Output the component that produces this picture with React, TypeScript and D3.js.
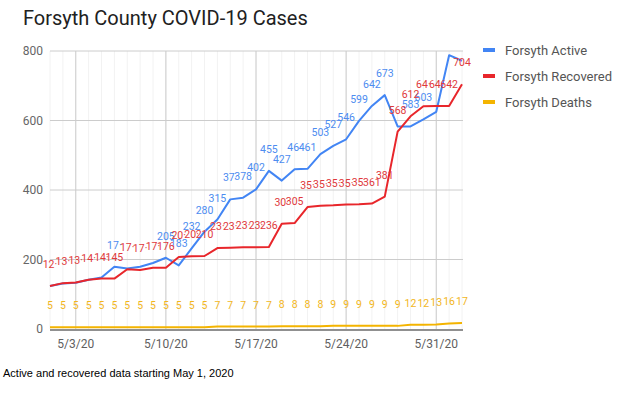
import * as d3 from 'd3';

// Daily counts, May 1 – June 2, 2020
const dates = [
  '2020-05-01', '2020-05-02', '2020-05-03', '2020-05-04', '2020-05-05', '2020-05-06', '2020-05-07',
  '2020-05-08', '2020-05-09', '2020-05-10', '2020-05-11', '2020-05-12', '2020-05-13', '2020-05-14',
  '2020-05-15', '2020-05-16', '2020-05-17', '2020-05-18', '2020-05-19', '2020-05-20', '2020-05-21',
  '2020-05-22', '2020-05-23', '2020-05-24', '2020-05-25', '2020-05-26', '2020-05-27', '2020-05-28',
  '2020-05-29', '2020-05-30', '2020-05-31', '2020-06-01', '2020-06-02',
];
const active = [
  124, 131, 133, 142, 148, 179, 174, 179, 190, 205, 183, 232, 280, 315, 373, 378, 402,
  455, 427, 460, 461, 503, 527, 546, 599, 642, 673, 583, 583, 603, 625, 788, 772,
];
const recovered = [
  124, 132, 134, 142, 145, 145, 172, 170, 176, 176, 207, 209, 210, 233, 234, 235, 235,
  236, 303, 305, 351, 355, 356, 358, 359, 361, 381, 568, 612, 641, 642, 642, 704,
];
const deaths = [
  5, 5, 5, 5, 5, 5, 5, 5, 5, 5, 5, 5, 5, 7, 7, 7, 7,
  7, 8, 8, 8, 8, 9, 9, 9, 9, 9, 9, 12, 12, 13, 16, 17,
];
const xTicks = ['2020-05-03', '2020-05-10', '2020-05-17', '2020-05-24', '2020-05-31'];
const yTicks = [0, 200, 400, 600, 800];

const series = [
  { name: 'Forsyth Active', color: '#4285f4', label: '#4d8cf0', values: active },
  { name: 'Forsyth Recovered', color: '#e8262b', label: '#e0393b', values: recovered },
  { name: 'Forsyth Deaths', color: '#f4b400', label: '#f2b61c', values: deaths },
];

const W = 627;
const H = 396;
const font = 'Roboto, Arial, sans-serif';

const parse = d3.timeParse('%Y-%m-%d');
const days = dates.map(d => parse(d) as Date);

const x = d3.scaleTime()
  .domain([days[0], days[days.length - 1]])
  .range([50, 462]);
const y = d3.scaleLinear().domain([0, 800]).range([329, 51]);
const fmt = d3.timeFormat('%-m/%-d/%y');

const line = d3.line<number>()
  .x((_, i) => x(days[i]))
  .y(v => y(v));

export default function App() {
  const [x0, x1] = x.range();
  const [yb, yt] = y.range();

  // data labels: truncate when the next label sits at nearly the same height,
  // hide when a later series puts its label on the same spot
  const labels = series.map((s, si) => s.values.map((v, i) => {
    const ly = y(v) - 22;
    if (ly < yt) return null;
    const covered = series.slice(si + 1).some(o => Math.abs(y(o.values[i]) - y(v)) < 6);
    if (covered) return null;
    let txt = String(v);
    const next = s.values[i + 1];
    if (next !== undefined && txt.length >= 3 && Math.abs(y(next) - y(v)) < 6.5) {
      txt = txt.slice(0, 2) + '·';
    }
    return { x: x(days[i]), y: ly, txt };
  }));

  return (
    <svg width={W} height={H} style={{ position: 'absolute', left: 0, top: 0, background: '#fff' }}>
      <text x={23} y={25} fontFamily={font} fontSize={20} fill="#212121">Forsyth County COVID-19 Cases</text>

      {/* minor vertical gridlines */}
      {days.map((d, i) => (
        <line key={'m' + i} x1={x(d)} x2={x(d)} y1={yt} y2={yb} stroke="#f2f2f2" />
      ))}
      {/* major gridlines */}
      {xTicks.map(t => (
        <line key={t} x1={x(parse(t) as Date)} x2={x(parse(t) as Date)} y1={yt} y2={yb} stroke="#cccccc" />
      ))}
      {yTicks.filter(t => t > 0).map(t => (
        <line key={t} x1={x0} x2={x1 + 1} y1={y(t)} y2={y(t)} stroke="#cccccc" />
      ))}
      <line x1={x0} x2={x1 + 1} y1={yb + 1} y2={yb + 1} stroke="#6b6b6b" strokeWidth={1.5} />

      {/* axis labels */}
      {yTicks.map(t => (
        <text key={t} x={43} y={y(t) + 4} textAnchor="end" fontFamily={font} fontSize={12} fill="#666">{t}</text>
      ))}
      {xTicks.map(t => (
        <text key={t} x={x(parse(t) as Date)} y={348} textAnchor="middle" fontFamily={font} fontSize={12} fill="#5f5f5f">
          {fmt(parse(t) as Date)}
        </text>
      ))}

      {/* series lines */}
      {series.map(s => (
        <path key={s.name} d={line(s.values) || ''} fill="none" stroke={s.color} strokeWidth={2} strokeLinejoin="round" />
      ))}

      {/* data labels */}
      {series.map((s, si) => (
        <g key={s.name} fontFamily={font} fontSize={10.5} fill={s.label} textAnchor="middle">
          {labels[si].map((l, i) => l && (
            <text key={i} x={l.x} y={l.y + 4}>{l.txt}</text>
          ))}
        </g>
      ))}

      {/* legend */}
      {series.map((s, i) => (
        <g key={s.name} transform={`translate(483,${50 + i * 26})`}>
          <rect x={0} y={-2} width={12} height={4} fill={s.color} />
          <text x={22} y={4.5} fontFamily={font} fontSize={13} fill="#555">{s.name}</text>
        </g>
      ))}

      <text x={3} y={377} fontFamily="'Liberation Sans', Arial, sans-serif" fontSize={11} fill="#000">
        Active and recovered data starting May 1, 2020
      </text>
    </svg>
  );
}
